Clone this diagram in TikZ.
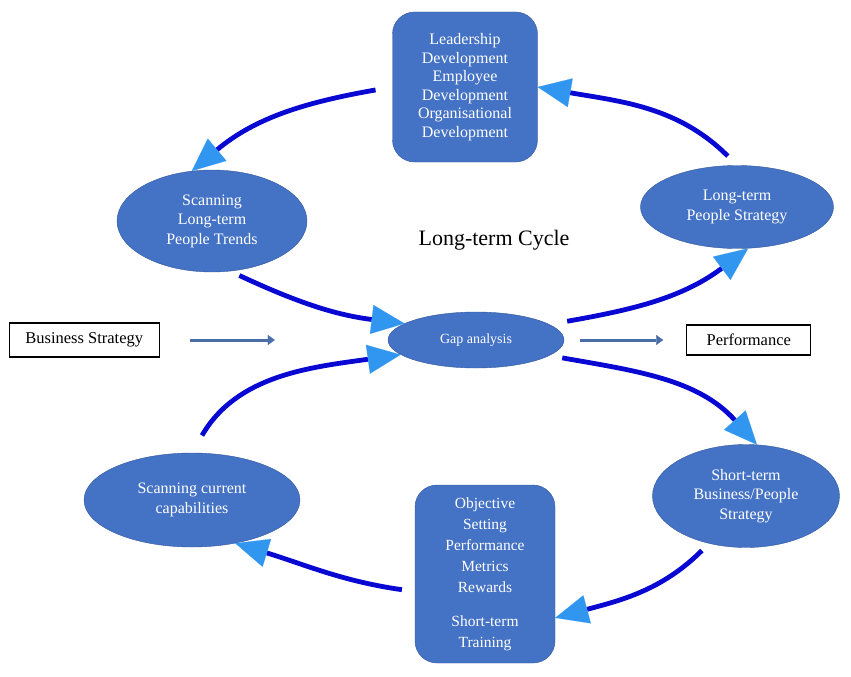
\documentclass[tikz,border=0pt]{standalone}
\usepackage{fontspec}
\setmainfont{Liberation Serif}
\usetikzlibrary{positioning, shapes.geometric, arrows.meta}

\definecolor{nodeblue}{RGB}{68,114,196}
\definecolor{edgeblue}{RGB}{52,88,158}
\definecolor{loopblue}{RGB}{8,8,210}
\definecolor{headblue}{RGB}{48,150,240}
\definecolor{feedblue}{RGB}{74,110,168}

\tikzset{
	blob/.style={ellipse, fill=nodeblue, draw=edgeblue, text=white, align=center,
		inner sep=0pt, font=\fontsize{16}{19.5}\selectfont},
	panel/.style={rectangle, rounded corners=22pt, fill=nodeblue, draw=edgeblue,
		text=white, align=center, inner sep=0pt},
	tagbox/.style={rectangle, draw=black, line width=1.1pt, inner sep=0pt,
		font=\fontsize{16.5}{19}\selectfont},
	loop/.style={line width=4.8pt, draw=loopblue,
		-{Triangle[length=33pt,width=29pt,line width=0.1pt,color=headblue]}},
	feed/.style={line width=3pt, draw=feedblue,
		-{Triangle[length=7pt,width=10pt,line width=0.1pt]}}
}

\begin{document}
\begin{tikzpicture}[x=1pt,y=1pt]

		\useasboundingbox (0,0) rectangle (851,-677);

		% centre
		\node[blob, minimum width=176pt, minimum height=56pt, font=\fontsize{14}{17}\selectfont]
			(gap) at (476,-340) {Gap analysis};
		\node[font=\fontsize{22}{26}\selectfont] (cycle) at (494,-240) {Long-term Cycle};

		% upper half
		\node[panel, minimum width=145pt, minimum height=150pt, font=\fontsize{16}{18.5}\selectfont]
			(lead) at (465,-87)
			{Leadership\\Development\\Employee\\Development\\Organisational\\Development};
		\node[blob, minimum width=190pt, minimum height=102pt]
			(scanlt) at (212,-221) {Scanning\\Long-term\\People Trends};
		\node[blob, minimum width=193pt, minimum height=83pt]
			(lsp) at (737,-207) {Long-term\\People Strategy};

		% lower half
		\node[blob, minimum width=216pt, minimum height=94pt]
			(scc) at (192,-500) {Scanning current\\capabilities};
		\node[blob, minimum width=187pt, minimum height=103pt]
			(stb) at (746,-496) {Short-term\\Business/People\\Strategy};
		\node[panel, minimum width=140pt, minimum height=178pt, font=\fontsize{15.5}{21}\selectfont]
			(objset) at (485,-574)
			{Objective\\Setting\\Performance\\Metrics\\Rewards\\[13pt]Short-term\\Training};

		% inputs and outputs
		\node[tagbox, minimum width=150pt, minimum height=34pt, left=228pt of gap]
			(bs) {Business Strategy};
		\node[tagbox, minimum width=124pt, minimum height=30pt, right=122pt of gap]
			(perf) {Performance};

		\draw[feed, shorten <=30pt, shorten >=113pt] (bs.east) -- (gap.west);
		\draw[feed, shorten <=16pt, shorten >=23pt] (gap.east) -- (perf.west);

		% cycle arrows
		\draw[loop, shorten <=17pt] (lead.west) to[out=190, in=40] (scanlt.112);
		\draw[loop, shorten <=13pt] (lsp.north) to[out=135, in=350] (lead.east);
		\draw[loop, shorten <=10pt] (scanlt.290) to[out=-25, in=173] (gap.167);
		\draw[loop, shorten <=20pt] (scc.north) to[out=60, in=188] (gap.191);
		\draw[loop, shorten <=18pt] (gap.12) to[out=10, in=217] (lsp.285);
		\draw[loop, shorten <=13pt] (gap.-12) to[out=-10, in=132] (stb.78);
		\draw[loop, shorten <=10pt] (stb.232) to[out=225, in=15] (objset.-32);
		\draw[loop, shorten <=13pt] (objset.194) to[out=172, in=343] (scc.-45);

	\end{tikzpicture}
\end{document}
